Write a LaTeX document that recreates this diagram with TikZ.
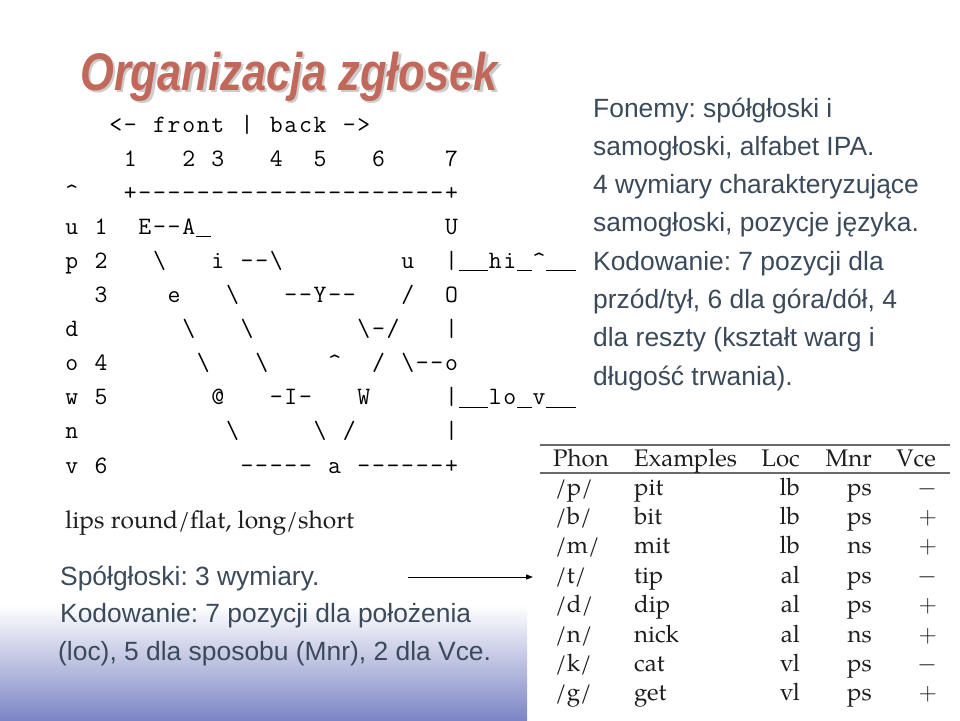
\documentclass[tikz,border=0pt]{standalone}
\usepackage{fontspec}
\setmainfont{Liberation Sans}
\IfFontExistsTF{TeX Gyre Pagella}
  {\newfontfamily\pagfont{TeX Gyre Pagella}}
  {\newfontfamily\pagfont{Liberation Serif}}
\usetikzlibrary{arrows.meta}
\definecolor{txt}{HTML}{3A4A5A}
\definecolor{titlec}{HTML}{C2685A}
\definecolor{gradbot}{HTML}{7C85C5}
\definecolor{tabtxt}{HTML}{1E1E1E}
\definecolor{rulec}{HTML}{6A6A6A}
\newlength\cw
\setlength\cw{14.6pt}
\ExplSyntaxOn
\NewDocumentCommand \ascline { m }
  { \tl_map_inline:nn {#1} { \makebox[\cw][c]{##1} } }
\ExplSyntaxOff
\newcommand\bs{\textbackslash}
\newcommand\crt{\textasciicircum}
\newcommand\us{\rule[-2.6pt]{\cw}{0.9pt}}
\frenchspacing
\tikzset{
  asc/.style={inner sep=0pt, anchor=base west, font=\ttfamily\fontsize{25}{28}\selectfont, text=black},
  rtxt/.style={inner sep=0pt, anchor=base west, font=\fontsize{26.4}{30}\selectfont, text=txt},
  tabc/.style={inner sep=0pt, font=\pagfont\fontsize{24}{28}\selectfont, text=tabtxt},
  tabl/.style={tabc, anchor=base west},
  tabr/.style={tabc, anchor=base east},
  ttl/.style={inner sep=0pt, anchor=base west, font=\bfseries\itshape\fontsize{53}{60}\selectfont},
}
\begin{document}
\begin{tikzpicture}[x=1pt,y=-1pt]
\useasboundingbox (0,0) rectangle (960,720);
\fill[white] (0,0) rectangle (960,720);
\shade[top color=white, bottom color=gradbot] (0,605) rectangle (527,720);

% title
\node[ttl, text=black!20] (titlesh) at (82.5,92.5) {\scalebox{0.82}[1]{Organizacja zgłosek}};
\node[ttl, text=titlec] (title) at (80,90) {\scalebox{0.82}[1]{Organizacja zgłosek}};

% ASCII vowel chart (one cell per character)
\node[asc] (a0) at (64.4+3*14.6,132) {\ascline{<-~front~|~back~->}};
\node[asc] (a1) at (64.4+4*14.6,166.1) {\ascline{1~~~2~3~~~4~~5~~~6~~~~7}};
\node[asc] (a2) at (64.4,200.2) {\ascline{\crt~~~+---------------------+}};
\node[asc] (a3) at (64.4,234.3) {\ascline{u~1~~E--A\us~~~~~~~~~~~~~~~~U}};
\node[asc] (a4) at (64.4,268.4) {\ascline{p~2~~~\bs~~~i~--\bs~~~~~~~~u~~|\us\us hi\us\crt\us\us}};
\node[asc] (a5) at (64.4+2*14.6,302.5) {\ascline{3~~~~e~~~\bs~~~--Y--~~~/~~O}};
\node[asc] (a6) at (64.4,336.6) {\ascline{d~~~~~~~\bs~~~\bs~~~~~~~\bs-/~~~|}};
\node[asc] (a7) at (64.4,370.7) {\ascline{o~4~~~~~~\bs~~~\bs~~~~\crt~~/~\bs--o}};
\node[asc] (a8) at (64.4,404.8) {\ascline{w~5~~~~~~~@~~~-I-~~~W~~~~~|\us\us lo\us v\us\us}};
\node[asc] (a9) at (64.4,438.9) {\ascline{n~~~~~~~~~~\bs~~~~~\bs~/~~~~~~|}};
\node[asc] (a10) at (64.4,473) {\ascline{v~6~~~~~~~~~-----~a~------+}};
\node[tabl, font=\pagfont\fontsize{24.6}{28}\selectfont] (lips) at (65,528) {lips round/flat, long/short};

% right text
\node[rtxt] (r1) at (593,117) {Fonemy: spółgłoski i};
\node[rtxt] (r2) at (593,155.3) {samogłoski, alfabet IPA.};
\node[rtxt] (r3) at (593,193.6) {4 wymiary charakteryzujące};
\node[rtxt] (r4) at (593,231.9) {samogłoski, pozycje języka.};
\node[rtxt] (r5) at (593,270.2) {Kodowanie: 7 pozycji dla};
\node[rtxt] (r6) at (593,308.5) {przód/tył, 6 dla góra/dół, 4};
\node[rtxt] (r7) at (593,346.8) {dla reszty (kształt warg i};
\node[rtxt] (r8) at (593,385.1) {długość trwania).};

% bottom-left text
\node[rtxt] (b1) at (60,585) {Spółgłoski: 3 wymiary.};
\node[rtxt] (b2) at (60,622) {Kodowanie: 7 pozycji dla położenia};
\node[rtxt] (b3) at (58,660) {(loc), 5 dla sposobu (Mnr), 2 dla Vce.};

% arrow
\coordinate (arrS) at (408,577);
\coordinate (arrE) at (533,577);
\draw[line width=1pt, -{Triangle[length=7pt,width=5pt]}] (arrS) -- (arrE);

% table
\draw[rulec, line width=1.2pt] (540,445) -- (950,445);
\draw[rulec, line width=1.2pt] (540,473) -- (950,473);
\node[tabl] (hPhon) at (553,466) {Phon};
\node[tabl] (hEx) at (634,466) {Examples};
\node[tabr] (hLoc) at (800,466) {Loc};
\node[tabr] (hMnr) at (872,466) {Mnr};
\node[tabr] (hVce) at (936,466) {Vce};
\foreach \ph/\ex/\lc/\mn/\vc [count=\i from 0] in
  {p/pit/lb/ps/$-$, b/bit/lb/ps/$+$, m/mit/lb/ns/$+$, t/tip/al/ps/$-$,
   d/dip/al/ps/$+$, n/nick/al/ns/$+$, k/cat/vl/ps/$-$, g/get/vl/ps/$+$}{
  \node[tabl] (ph\i) at (555,495+29.4*\i) {/\ph/};
  \node[tabl] (ex\i) at (634,495+29.4*\i) {\ex};
  \node[tabr] (lc\i) at (800,495+29.4*\i) {\lc};
  \node[tabr] (mn\i) at (872,495+29.4*\i) {\mn};
  \node[tabr] (vc\i) at (937,495+29.4*\i) {\vc};
}
\end{tikzpicture}
\end{document}
